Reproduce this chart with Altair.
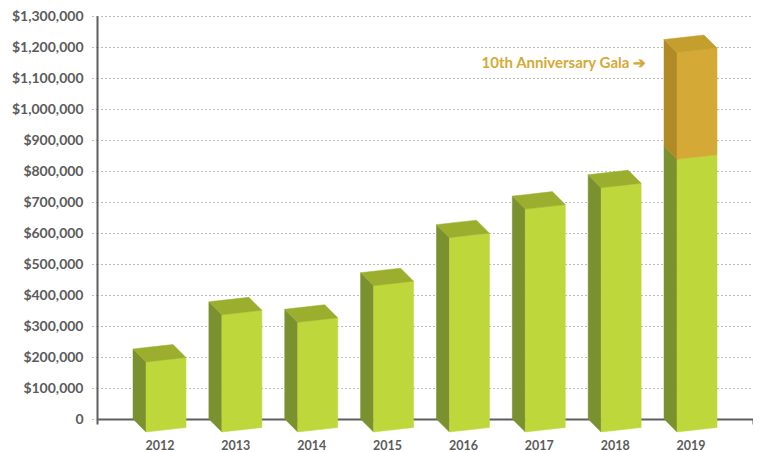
import altair as alt
import pandas as pd

# ---------------- data ----------------
years = ["2012", "2013", "2014", "2015", "2016", "2017", "2018", "2019"]
base_values = [226000, 378000, 354000, 472000, 627000, 719000, 788000, 880000]
gala_values = [0, 0, 0, 0, 0, 0, 0, 344000]
y_ticks = list(range(0, 1300001, 100000))
annotation_text = "10th Anniversary Gala \u2794"
annotation_year = "2019"
annotation_value = 1150000

# ---------------- geometry / style constants ----------------
W, H = 656, 403            # plot area in px
YMAX = 1300000
STEP_PX = 75.86            # px between bars
XMAX = W / STEP_PX         # x domain in "bar steps"
LEFT0_PX = 36              # axis -> first bar back-left edge
DEPTH_PX = 13              # 3D depth offset
FRONT_PX = 40              # front face width
TILT_PX = 4.5              # slight perspective tilt

ux = 1.0 / STEP_PX         # x units per px
uy = YMAX / H              # y units per px
dx, wx = DEPTH_PX * ux, FRONT_PX * ux
dy, ty = DEPTH_PX * uy, TILT_PX * uy

PAL = {
    "green": {"front": "#bed73a", "side": "#7b9130", "top": "#9bae2e"},
    "gold": {"front": "#d4a935", "side": "#b08a27", "top": "#c49f2e"},
}

rows = []


def poly(pid, color, pts):
    for (x, y, y2) in pts:
        rows.append({"pid": pid, "col": color, "px": x, "top": y, "bot": y2})


for i, yr in enumerate(years):
    x0 = LEFT0_PX * ux + i
    segs = [(0, base_values[i], "green")]
    if gala_values[i] > 0:
        segs.append((base_values[i], base_values[i] + gala_values[i], "gold"))
    for j, (b, t, pal) in enumerate(segs):
        c = PAL[pal]
        poly(f"{yr}-{j}-side", c["side"], [(x0, t, b), (x0 + dx, t - dy, b - dy)])
        poly(f"{yr}-{j}-front", c["front"],
             [(x0 + dx, t - dy, b - dy), (x0 + dx + wx, t - dy + ty, b - dy + ty)])
        if j == len(segs) - 1:
            poly(f"{yr}-{j}-topface", c["top"], [
                (x0, t, t),
                (x0 + dx, t + ty * dx / wx, t - dy),
                (x0 + wx, t + ty, t - dy + ty * (wx - dx) / wx),
                (x0 + wx + dx, t - dy + ty, t - dy + ty),
            ])

df = pd.DataFrame(rows)

center = LEFT0_PX * ux + (dx + wx) / 2
x_values = [0] + [i + center for i in range(len(years))] + [XMAX]
year_arr = "[" + ",".join(f"'{y}'" for y in years) + "]"
x_label_expr = f"(datum.value < 0.3 || datum.value > {XMAX - 0.3}) ? '' : {year_arr}[floor(datum.value)]"

AXIS_COLOR = "#5f5f5f"
LABEL_COLOR = "#5b5b5b"

x_axis = alt.Axis(
    values=x_values,
    labelExpr=x_label_expr,
    title=None,
    grid=False,
    domainColor=AXIS_COLOR,
    domainWidth=2,
    tickSize=5,
    tickWidth=2,
    tickColor=AXIS_COLOR,
    labelFont="Lato",
    labelFontWeight="bold",
    labelFontSize=12.5,
    labelColor=LABEL_COLOR,
    labelPadding=15,
    labelOverlap=False,
    labelFlush=False,
)

y_axis = alt.Axis(
    values=y_ticks,
    labelExpr="datum.value == 0 ? '0' : '$' + format(datum.value, ',')",
    title=None,
    grid=True,
    gridDash=[1, 3],
    gridColor="#777777",
    gridWidth=1,
    domainColor=AXIS_COLOR,
    domainWidth=2,
    tickSize=6,
    tickColor="#777777",
    tickDash=[1, 3],
    labelFont="Lato",
    labelFontWeight="bold",
    labelFontSize=14,
    labelColor=LABEL_COLOR,
    labelPadding=8,
    labelOverlap=False,
)

xs = alt.Scale(domain=[0, XMAX], nice=False, zero=False)
ys = alt.Scale(domain=[0, YMAX], nice=False, zero=False)

bars = alt.Chart(df).mark_area(interpolate="linear", strokeWidth=0.5).encode(
    x=alt.X("px:Q", scale=xs, axis=x_axis),
    y=alt.Y("top:Q", scale=ys, axis=y_axis),
    y2="bot:Q",
    detail="pid:N",
    fill=alt.Fill("col:N", scale=None),
    stroke=alt.Stroke("col:N", scale=None),
)

ai = years.index(annotation_year)
anno_df = pd.DataFrame({
    "px": [LEFT0_PX * ux + ai - 18 * ux],
    "top": [annotation_value],
    "t": [annotation_text],
})
anno = alt.Chart(anno_df).mark_text(
    align="right", baseline="middle", font="Lato", fontSize=15, fontWeight="bold",
    color="#d4a935",
).encode(
    x=alt.X("px:Q", scale=xs, axis=x_axis),
    y=alt.Y("top:Q", scale=ys, axis=y_axis),
    text="t:N",
)

chart = alt.layer(bars, anno).properties(
    width=W,
    height=H,
    autosize=alt.AutoSizeParams(type="none"),
    padding={"left": 89, "top": 8, "right": 0, "bottom": 34},
).configure_view(stroke=None)

chart.save("out.html", embed_options={"renderer": "svg", "actions": False})
